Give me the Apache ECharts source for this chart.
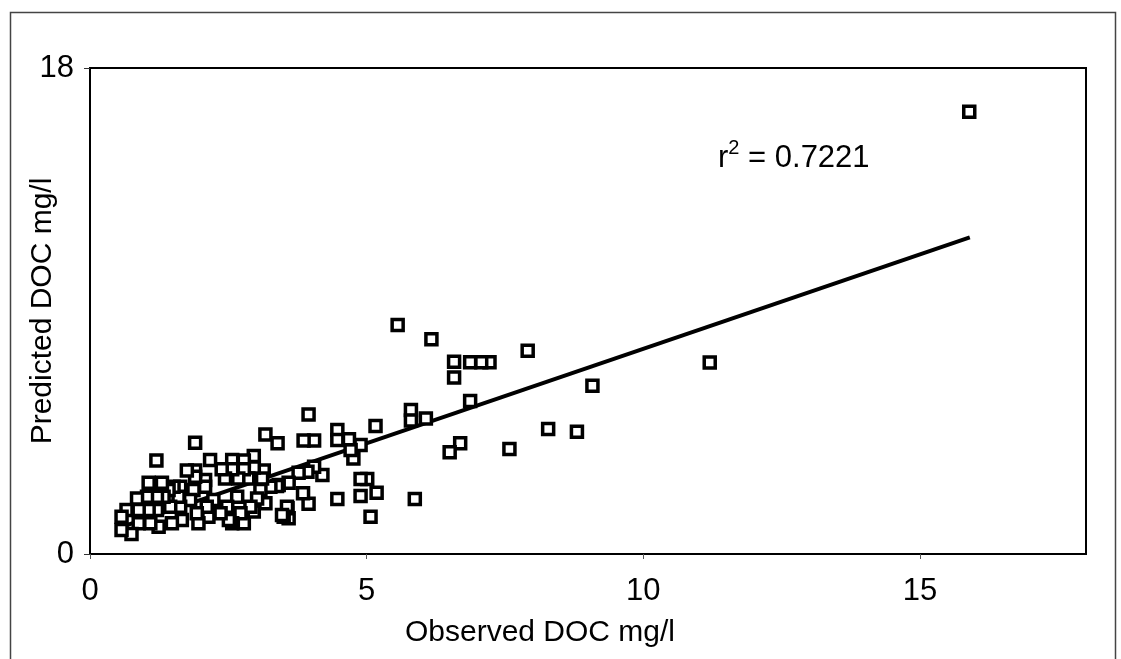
<!DOCTYPE html>
<html>
<head>
<meta charset="utf-8">
<script src="https://cdn.jsdelivr.net/npm/echarts@6/dist/echarts.min.js"></script>
<style>
    html, body { margin: 0; padding: 0; background: #fff; }
    #chart { width: 1121px; height: 659px; }
</style>
</head>
<body>
<div id="chart"></div>
<script>
// observed vs predicted DOC (mg/l)
var obsX = [
    15.89, 11.2, 9.08, 8.80, 8.28, 7.91, 7.58, 7.22, 7.07, 6.87, 6.87, 6.69, 6.58, 6.58, 6.50,
    6.17, 6.07, 5.87, 5.80, 5.80, 5.56, 5.18, 5.16, 5.07, 5.01, 4.89, 4.89, 4.89, 4.76, 4.71,
    4.68, 4.47, 4.47, 4.47, 4.20, 4.05, 4.05, 3.95, 3.95, 3.93, 3.86, 3.85, 3.77, 3.59, 3.59,
    3.57, 3.56, 3.50, 3.47, 3.41, 3.39, 3.38, 3.26, 3.17, 3.17, 3.14, 3.11, 3.08, 3.02, 2.96,
    2.96, 2.96, 2.90, 2.86, 2.78, 2.78, 2.78, 2.72, 2.68, 2.66, 2.57, 2.57, 2.57, 2.51, 2.48,
    2.44, 2.38, 2.36, 2.23, 2.17, 2.14, 2.11, 2.08, 2.08, 1.96, 1.93, 1.90, 1.90, 1.90, 1.87,
    1.81, 1.75, 1.66, 1.63, 1.63, 1.60, 1.51, 1.48, 1.45, 1.42, 1.33, 1.30, 1.24, 1.21, 1.21,
    1.20, 1.09, 1.06, 1.06, 1.03, 0.88, 0.88, 0.85, 0.75, 0.66, 0.57, 0.57
];
var predY = [
    16.38, 7.09, 6.23, 4.53, 4.63, 7.53, 3.89, 7.10, 7.10, 7.10, 5.67, 4.10, 7.12, 6.54, 3.77,
    7.95, 5.02, 2.04, 5.33, 4.94, 8.48, 2.27, 4.74, 1.38, 2.78, 4.04, 2.78, 2.15, 3.54, 3.85,
    4.25, 4.59, 4.22, 2.04, 2.93, 4.20, 3.23, 5.17, 1.86, 3.05, 4.20, 2.25, 3.01, 2.64, 1.32,
    1.69, 1.75, 1.38, 1.44, 2.56, 4.10, 2.52, 2.49, 4.43, 1.88, 3.09, 2.80, 2.37, 2.06, 3.63,
    3.20, 1.57, 1.75, 2.80, 3.46, 3.14, 1.14, 1.51, 2.80, 2.12, 3.48, 3.14, 1.14, 1.26, 1.75,
    2.80, 3.14, 1.51, 2.00, 3.48, 1.38, 1.75, 2.74, 2.49, 1.14, 1.51, 4.12, 3.09, 2.86, 2.37,
    2.00, 3.09, 1.26, 2.49, 1.75, 2.12, 2.49, 1.14, 1.75, 2.37, 2.12, 2.64, 1.01, 2.12, 1.63,
    3.46, 1.14, 2.64, 1.63, 2.12, 1.63, 1.14, 2.06, 0.74, 1.63, 1.38, 0.89
];
// fitted line end points
var trendX = [0.6, 15.9];
var trendY = [1.02, 11.73];
var xTicks = [0, 5, 10, 15];

var chart = echarts.init(document.getElementById('chart'), null, { renderer: 'canvas' });

var points = obsX.map(function(x, i) { return [x, predY[i]]; });
var trend = trendX.map(function(x, i) { return [x, trendY[i]]; });

var fontName = '"Liberation Sans", Arial, sans-serif';

var option = {
    backgroundColor: '#fff',
    animation: false,
    grid: {
        left: 90,
        right: 35,
        top: 68,
        bottom: 105,
        outerBoundsMode: 'none',
        show: true,
        borderColor: '#000',
        borderWidth: 2,
        backgroundColor: '#fff'
    },
    xAxis: {
        type: 'value',
        min: 0,
        max: 18,
        interval: 5,
        name: 'Observed DOC mg/l',
        nameLocation: 'middle',
        nameGap: 64,
        nameMoveOverlap: false,
        nameTextStyle: {
            fontFamily: fontName,
            fontSize: 30,
            color: '#000',
            padding: [0, 96, 0, 0]
        },
        axisLine: { show: true, lineStyle: { color: '#000', width: 2 } },
        axisTick: {
            show: true,
            length: 5,
            lineStyle: { color: '#555', width: 1 },
            customValues: xTicks
        },
        axisLabel: {
            fontFamily: fontName,
            fontSize: 31,
            color: '#000',
            margin: 22,
            customValues: xTicks
        },
        splitLine: { show: false }
    },
    yAxis: {
        type: 'value',
        min: 0,
        max: 18,
        interval: 18,
        name: 'Predicted DOC mg/l',
        nameLocation: 'middle',
        nameRotate: 90,
        nameGap: 32,
        nameMoveOverlap: false,
        nameTextStyle: {
            fontFamily: fontName,
            fontSize: 30,
            color: '#000'
        },
        axisLine: { show: true, lineStyle: { color: '#000', width: 2 } },
        axisTick: { show: true, length: 6, lineStyle: { color: '#333', width: 1 } },
        axisLabel: {
            fontFamily: fontName,
            fontSize: 31,
            color: '#000',
            margin: 16
        },
        splitLine: { show: false }
    },
    graphic: [
        {
            type: 'rect',
            left: 8,
            top: 10,
            shape: { width: 1105, height: 680 },
            style: { fill: 'none', stroke: '#444', lineWidth: 1.5 },
            silent: true,
            z: -1
        },
        {
            type: 'text',
            left: 718,
            top: 138,
            style: {
                text: '{r|r}{s|2}{r| = 0.7221}',
                rich: {
                    r: { fontFamily: fontName, fontSize: 31, fill: '#000', lineHeight: 36, verticalAlign: 'bottom' },
                    s: { fontFamily: fontName, fontSize: 20, fill: '#000', lineHeight: 36, verticalAlign: 'top' }
                }
            },
            z: 10
        }
    ],
    series: [
        {
            type: 'line',
            data: trend,
            symbol: 'none',
            lineStyle: { color: '#000', width: 4 },
            z: 3
        },
        {
            type: 'scatter',
            data: points,
            symbol: 'rect',
            symbolSize: 11,
            itemStyle: {
                color: '#fff',
                borderColor: '#000',
                borderWidth: 3.5,
                opacity: 1
            },
            z: 4
        }
    ]
};

chart.setOption(option);
</script>
</body>
</html>
